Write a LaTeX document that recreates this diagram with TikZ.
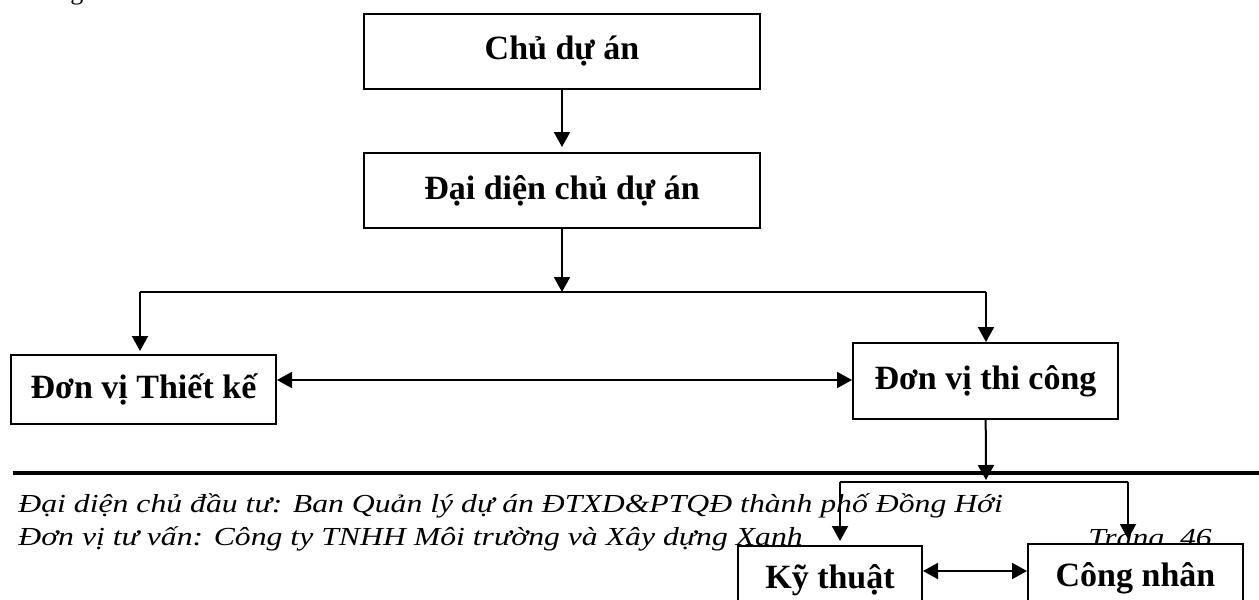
\documentclass[tikz,border=0pt]{standalone}
\usepackage{fontspec}
\usepackage{graphicx}
\setmainfont{Liberation Serif}
\usetikzlibrary{arrows.meta}
\newcommand{\widetext}[1]{\scalebox{1.22}[1]{#1}}
\begin{document}
\begin{tikzpicture}[x=0.5pt,y=-0.5pt,
    box/.style={draw,line width=1pt,fill=white,inner sep=0pt,
      font=\fontsize{17}{20}\selectfont\bfseries},
    footer/.style={inner sep=0pt,anchor=base west,
      font=\fontsize{13}{15}\selectfont\itshape},
    tip/.style={-{Triangle[width=8pt,length=7.5pt]}},
    twotips/.style={{Triangle[width=8pt,length=7.5pt]}-{Triangle[width=8pt,length=7.5pt]}}]
  \clip (0,0) rectangle (1259,600);
  \fill[white] (0,0) rectangle (1259,600);
  \draw
    (70,-1) node[footer] (cut){\upshape g}
    (18,512) node[footer] (investor){\widetext{Đại diện chủ đầu tư: Ban Quản lý dự án ĐTXD\&PTQĐ thành phố Đồng Hới}}
    (18,545) node[footer] (advisor){\widetext{Đơn vị tư vấn: Công ty TNHH Môi trường và Xây dựng Xanh}}
    (1088,546) node[footer] (page){\widetext{Trang~~46}};
  \draw[line width=2pt] (13,473) -- (1259,473);
  \draw
    (562,51.5) node[box,minimum width=198pt,minimum height=37.5pt] (owner){Chủ dự án}
    (562,190.5) node[box,minimum width=198pt,minimum height=37.5pt] (agent){Đại diện chủ dự án}
    (143.5,389.5) node[box,minimum width=132.5pt,minimum height=34.5pt] (design){Đơn vị Thiết kế}
    (985.5,381) node[box,minimum width=132.5pt,minimum height=38pt] (build){Đơn vị thi công}
    (830,580) node[box,minimum width=92pt,minimum height=34pt] (tech){Kỹ thuật}
    (1135.5,578) node[box,minimum width=107.5pt,minimum height=34pt] (crew){Công nhân};
  \coordinate (fork) at (562,292);
  \coordinate (forkl) at (140,292);
  \coordinate (forkr) at (986,292);
  \coordinate (talk) at (0,380);
  \coordinate (split) at (986,482);
  \coordinate (splitl) at (840,482);
  \coordinate (splitr) at (1128,482);
  \coordinate (chat) at (0,571);
  \begin{scope}[line width=1pt]
    \draw (forkl) to (forkr);
    \draw (splitl) to (splitr);
  \end{scope}
  \begin{scope}[line width=1pt,tip]
    \draw[shorten >=2.5pt] (owner) to (agent);
    \draw (agent) to (fork);
    \draw[shorten >=1.5pt] (forkl) to (forkl |- design.north);
    \draw (forkr) to (forkr |- build.north);
    \draw[shorten >=1pt] (build) to (split);
    \draw[shorten >=2pt] (splitl) to (splitl |- tech.north);
    \draw[shorten >=2pt] (splitr) to (splitr |- crew.north);
  \end{scope}
  \begin{scope}[line width=1pt,twotips]
    \draw (design.east |- talk) to (build.west |- talk);
    \draw (tech.east |- chat) to (crew.west |- chat);
  \end{scope}
\end{tikzpicture}
\end{document}
